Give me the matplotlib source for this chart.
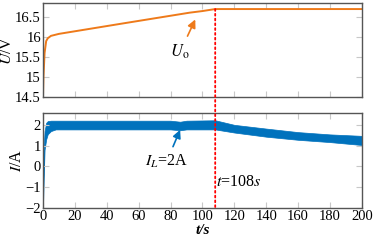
import matplotlib
matplotlib.use("Agg")
import matplotlib.pyplot as plt
from matplotlib.patches import ConnectionPatch

plt.rcParams['font.family'] = ['Liberation Serif', 'DejaVu Serif']
plt.rcParams['mathtext.fontset'] = 'stix'

# output voltage U_o
v_t = [0, 0.3, 1, 2, 3, 5, 10, 50, 92, 100, 108, 200]
v_val = [14.5, 15.0, 15.6, 15.9, 15.97, 16.03, 16.08, 16.34, 16.61, 16.65, 16.70, 16.70]

# inductor current I_L (ripple band: upper / lower envelope)
i_t = [0, 0.5, 1, 2, 3, 5, 8, 20, 50, 80, 86, 90, 108, 120, 140, 160, 180, 200]
i_hi = [-1.0, 1.0, 1.7, 2.1, 2.18, 2.2, 2.2, 2.2, 2.2, 2.2, 2.15, 2.2, 2.22, 2.0, 1.82, 1.65, 1.54, 1.47]
i_lo = [-2.0, -0.5, 0.8, 1.3, 1.55, 1.7, 1.78, 1.78, 1.78, 1.78, 1.74, 1.78, 1.78, 1.63, 1.43, 1.28, 1.17, 1.03]

t_event = 108
x_ticks = [0, 20, 40, 60, 80, 100, 120, 140, 160, 180, 200]
v_ticks = [14.5, 15, 15.5, 16, 16.5]
v_ticklabels = ['14.5', '15', '15.5', '16', '16.5']
i_ticks = [-2, -1, 0, 1, 2]

orange = '#EE7A1A'
blue = '#0072BD'

fig = plt.figure(figsize=(3.77, 2.41), dpi=100)
ax1 = fig.add_axes([0.114, 0.597, 0.846, 0.392])
ax2 = fig.add_axes([0.114, 0.137, 0.846, 0.395])

for ax in (ax1, ax2):
    ax.set_xlim(0, 200)
    ax.set_xticks(x_ticks)
    ax.tick_params(direction='in', length=4, color='#c8c8c8', labelsize=10.5,
                   top=True, right=True, pad=1.5)
    for s in ax.spines.values():
        s.set_color('#555555')
        s.set_linewidth(1.0)

# top panel
ax1.plot(v_t, v_val, color=orange, lw=1.4)
ax1.set_ylim(14.5, 16.86)
ax1.set_yticks(v_ticks)
ax1.set_yticklabels(v_ticklabels)
ax1.set_xticklabels([])
ax1.set_ylabel('$U$/V', fontsize=11.5, labelpad=0)
ax1.annotate('$U_{\\mathrm{o}}$', xy=(95.5, 16.44), xytext=(86, 15.63),
             ha='center', va='center', fontsize=12,
             arrowprops=dict(arrowstyle='-|>', color=orange, lw=1.2,
                             mutation_scale=12, shrinkA=3, shrinkB=0))

# bottom panel
ax2.fill_between(i_t, i_lo, i_hi, color=blue, lw=0.5, edgecolor=blue)
ax2.set_ylim(-2, 2.58)
ax2.set_yticks(i_ticks)
ax2.set_ylabel('$I$/A', fontsize=11.5, labelpad=0)
ax2.set_xlabel('t/s', fontsize=11, fontweight='bold', fontstyle='italic', labelpad=1)
ax2.annotate('$I_L$=2A', xy=(86, 1.76), xytext=(77.5, 0.22),
             ha='center', va='center', fontsize=11.5,
             arrowprops=dict(arrowstyle='-|>', color=blue, lw=1.2,
                             mutation_scale=12, shrinkA=3, shrinkB=0))
ax2.text(108.5, -0.75, '$t$=108$s$', fontsize=11.5, ha='left', va='center')

# dotted marker line spanning both panels
con = ConnectionPatch(xyA=(t_event, 16.70), coordsA=ax1.transData,
                      xyB=(t_event, -2), coordsB=ax2.transData,
                      color='red', linestyle=':', lw=1.3, zorder=5)
fig.add_artist(con)

fig.savefig('out.png', dpi=100)
